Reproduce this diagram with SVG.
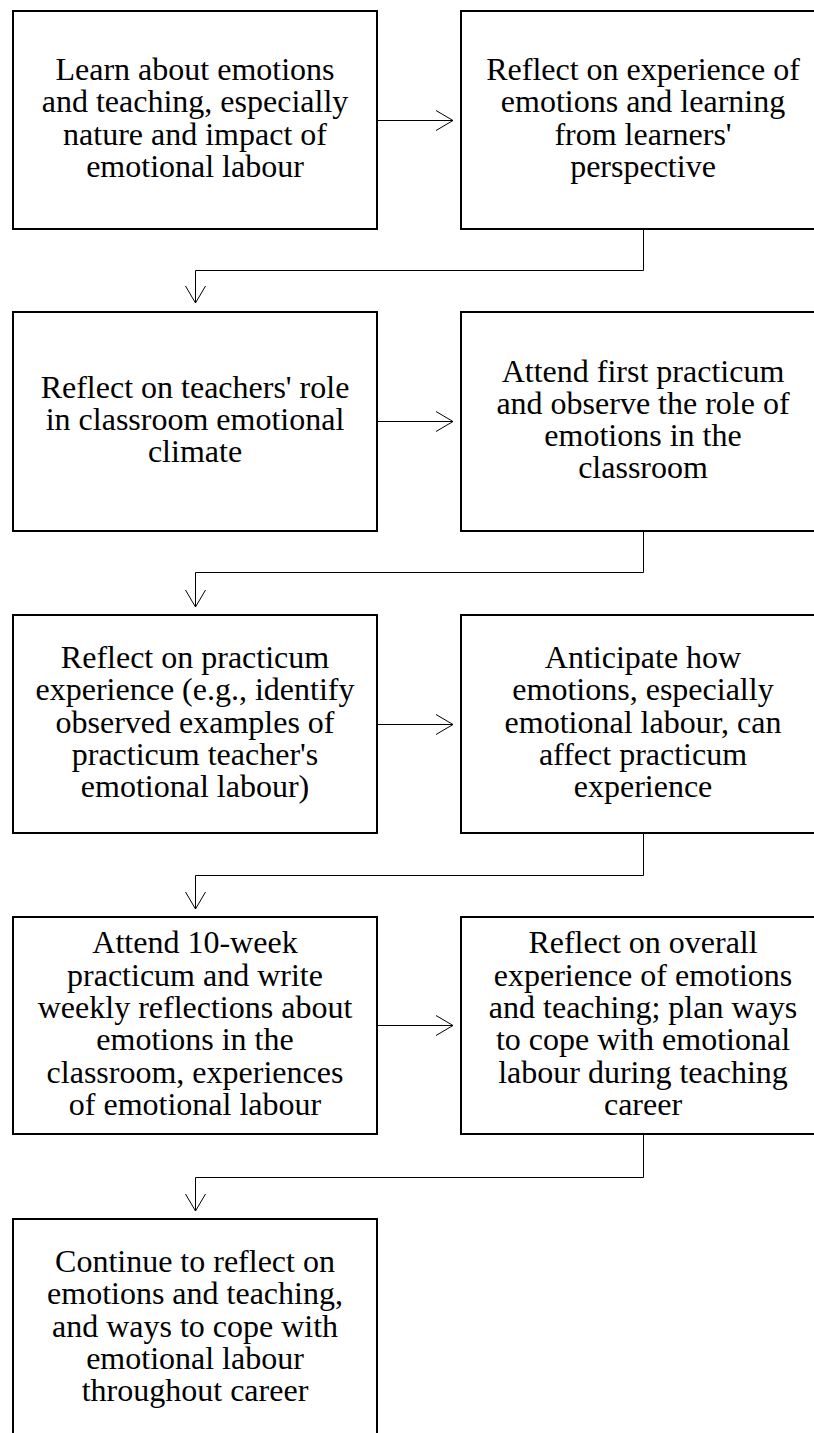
<svg xmlns="http://www.w3.org/2000/svg" width="814" height="1433" viewBox="0 0 814 1433">
<style>
.box{fill:#fff;stroke:#000;stroke-width:2}
.t{font-family:"Liberation Serif","Times New Roman",serif;font-size:32px;fill:#000;text-anchor:middle}
.c{fill:none;stroke:#000;stroke-width:1}
</style>
<defs>
<marker id="arr" markerUnits="userSpaceOnUse" markerWidth="20" markerHeight="22" viewBox="-1 -1 20 22" refX="17" refY="10" orient="auto" overflow="visible">
<path d="M0,0 L17,10 L0,20" fill="none" stroke="#000" stroke-width="1"/>
</marker>
</defs>
<rect width="814" height="1433" fill="#fff"/>
<g id="n1"><rect class="box" x="13" y="11" width="364" height="218"/>
<text class="t"><tspan x="195" y="80">Learn about emotions</tspan><tspan x="195" y="112.3">and teaching, especially</tspan><tspan x="195" y="144.6">nature and impact of</tspan><tspan x="195" y="176.9">emotional labour</tspan></text></g>
<g id="n2"><rect class="box" x="461" y="11" width="364" height="218"/>
<text class="t"><tspan x="643" y="80">Reflect on experience of</tspan><tspan x="643" y="112.3">emotions and learning</tspan><tspan x="643" y="144.6">from learners'</tspan><tspan x="643" y="176.9">perspective</tspan></text></g>
<g id="n3"><rect class="box" x="13" y="312" width="364" height="219"/>
<text class="t"><tspan x="195" y="397.7">Reflect on teachers' role</tspan><tspan x="195" y="430">in classroom emotional</tspan><tspan x="195" y="462.3">climate</tspan></text></g>
<g id="n4"><rect class="box" x="461" y="312" width="364" height="219"/>
<text class="t"><tspan x="643" y="381.5">Attend first practicum</tspan><tspan x="643" y="413.8">and observe the role of</tspan><tspan x="643" y="446.1">emotions in the</tspan><tspan x="643" y="478.4">classroom</tspan></text></g>
<g id="n5"><rect class="box" x="13" y="615" width="364" height="218"/>
<text class="t"><tspan x="195" y="668">Reflect on practicum</tspan><tspan x="195" y="700.3">experience (e.g., identify</tspan><tspan x="195" y="732.6">observed examples of</tspan><tspan x="195" y="764.9">practicum teacher's</tspan><tspan x="195" y="797.2">emotional labour)</tspan></text></g>
<g id="n6"><rect class="box" x="461" y="615" width="364" height="218"/>
<text class="t"><tspan x="643" y="668">Anticipate how</tspan><tspan x="643" y="700.3">emotions, especially</tspan><tspan x="643" y="732.6">emotional labour, can</tspan><tspan x="643" y="764.9">affect practicum</tspan><tspan x="643" y="797.2">experience</tspan></text></g>
<g id="n7"><rect class="box" x="13" y="917" width="364" height="217"/>
<text class="t"><tspan x="195" y="953.4">Attend 10-week</tspan><tspan x="195" y="985.7">practicum and write</tspan><tspan x="195" y="1018">weekly reflections about</tspan><tspan x="195" y="1050.3">emotions in the</tspan><tspan x="195" y="1082.6">classroom, experiences</tspan><tspan x="195" y="1114.9">of emotional labour</tspan></text></g>
<g id="n8"><rect class="box" x="461" y="917" width="364" height="217"/>
<text class="t"><tspan x="643" y="953.4">Reflect on overall</tspan><tspan x="643" y="985.7">experience of emotions</tspan><tspan x="643" y="1018">and teaching; plan ways</tspan><tspan x="643" y="1050.3">to cope with emotional</tspan><tspan x="643" y="1082.6">labour during teaching</tspan><tspan x="643" y="1114.9">career</tspan></text></g>
<g id="n9"><rect class="box" x="13" y="1219" width="364" height="218"/>
<text class="t"><tspan x="195" y="1272">Continue to reflect on</tspan><tspan x="195" y="1304.3">emotions and teaching,</tspan><tspan x="195" y="1336.6">and ways to cope with</tspan><tspan x="195" y="1368.9">emotional labour</tspan><tspan x="195" y="1401.2">throughout career</tspan></text></g>
<g id="connectors">
<path class="c" d="M378,120.5 H453" marker-end="url(#arr)"/>
<path class="c" d="M643.5,230 V270.5 H195.5 V303" marker-end="url(#arr)"/>
<path class="c" d="M378,421.5 H453" marker-end="url(#arr)"/>
<path class="c" d="M643.5,532 V572.5 H195.5 V607" marker-end="url(#arr)"/>
<path class="c" d="M378,724.5 H453" marker-end="url(#arr)"/>
<path class="c" d="M643.5,834 V875.5 H195.5 V909" marker-end="url(#arr)"/>
<path class="c" d="M378,1025.5 H453" marker-end="url(#arr)"/>
<path class="c" d="M643.5,1135 V1177.5 H195.5 V1211" marker-end="url(#arr)"/>
</g>
</svg>
